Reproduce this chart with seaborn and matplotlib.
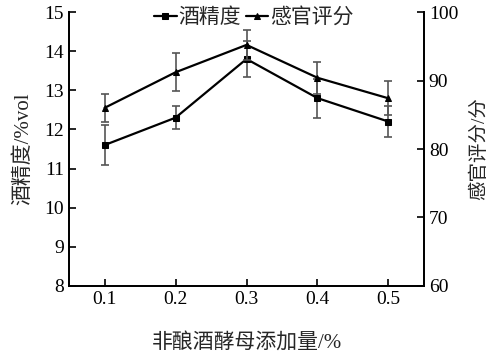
import matplotlib
matplotlib.use("Agg")
import matplotlib.pyplot as plt
import seaborn as sns
import pandas as pd

sns.set_theme(style="ticks")
plt.rcParams['font.family'] = ['Liberation Serif', 'Noto Sans CJK SC']

dose = [0.1, 0.2, 0.3, 0.4, 0.5]
alcohol = [11.6, 12.3, 13.8, 12.8, 12.2]
alcohol_err = [0.52, 0.3, 0.45, 0.5, 0.4]
score = [86.0, 91.2, 95.2, 90.4, 87.4]
score_err = [2.0, 2.8, 2.2, 2.3, 2.5]

df = pd.DataFrame({"dose": dose, "alcohol": alcohol, "score": score})

fig = plt.figure(figsize=(4.93, 3.6), dpi=100)
ax = fig.add_axes([0.14, 0.2056, 0.72, 0.761])
ax2 = ax.twinx()

ax.errorbar(dose, alcohol, yerr=alcohol_err, fmt="none", ecolor="#555555",
            elinewidth=1.2, capsize=3, capthick=1.2, zorder=1)
sns.lineplot(data=df, x="dose", y="alcohol", ax=ax, color="black", lw=1.6,
             marker="s", markersize=4.5, markeredgecolor="black", label="酒精度", legend=False)
ax2.errorbar(dose, score, yerr=score_err, fmt="none", ecolor="#555555",
             elinewidth=1.2, capsize=3, capthick=1.2, zorder=1)
sns.lineplot(data=df, x="dose", y="score", ax=ax2, color="black", lw=1.6,
             marker="^", markersize=4.5, markeredgecolor="black", label="感官评分", legend=False)

ax.set_xlim(0.05, 0.55)
ax.set_ylim(8, 15)
ax2.set_ylim(60, 100)
ax.set_xticks(dose)
ax.set_xticklabels([str(d) for d in dose])
ax.set_yticks(range(8, 16))
ax2.set_yticks(range(60, 101, 10))

for a in (ax, ax2):
    a.spines["top"].set_visible(False)
    for s in a.spines.values():
        s.set_linewidth(1.3)
        s.set_color("black")
    a.tick_params(direction="in", length=5, width=1.2, labelsize=14, colors="black")

ax.set_xlabel("非酿酒酵母添加量/%", fontsize=15, labelpad=18)
ax.set_ylabel("酒精度/%vol", fontsize=15, labelpad=8)
ax2.set_ylabel("感官评分/分", fontsize=14, labelpad=8)

h1, l1 = ax.get_legend_handles_labels()
h2, l2 = ax2.get_legend_handles_labels()
fig.legend(h1 + h2, l1 + l2, loc="upper center", bbox_to_anchor=(0.515, 1.03), ncol=2,
           frameon=False, fontsize=15, handlelength=1.1, handletextpad=0.1,
           columnspacing=0.2)

fig.savefig("out.png", dpi=100)
